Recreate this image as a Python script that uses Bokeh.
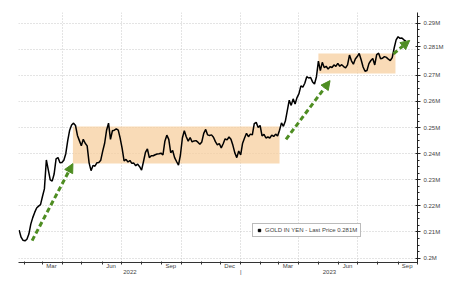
import pandas as pd
from bokeh.plotting import figure
from bokeh.models import (FixedTicker, Arrow, NormalHead, BoxAnnotation, Legend,
                          LegendItem, Range1d)
from bokeh.embed import file_html
from bokeh.resources import INLINE

# ---------------- data ----------------
start_date = "2022-01-24"
gold_yen = [  # price in millions of yen, one reading every 3 days
    0.2107, 0.2080, 0.2068, 0.2066, 0.2072, 0.2092, 0.2130, 0.2155, 0.2175, 0.2192,
    0.2199, 0.2205, 0.2236, 0.2265, 0.2376, 0.2338, 0.2300, 0.2295, 0.2322, 0.2380,
    0.2385, 0.2365, 0.2366, 0.2375, 0.2400, 0.2450, 0.2490, 0.2510, 0.2517, 0.2508,
    0.2470, 0.2450, 0.2430, 0.2455, 0.2440, 0.2430, 0.2365, 0.2335, 0.2355, 0.2352,
    0.2365, 0.2366, 0.2375, 0.2410, 0.2440, 0.2490, 0.2517, 0.2455, 0.2488, 0.2490,
    0.2495, 0.2490, 0.2459, 0.2420, 0.2372, 0.2378, 0.2368, 0.2374, 0.2363, 0.2364,
    0.2354, 0.2360, 0.2350, 0.2337, 0.2370, 0.2405, 0.2418, 0.2385, 0.2392, 0.2392,
    0.2396, 0.2399, 0.2400, 0.2402, 0.2395, 0.2448, 0.2471, 0.2455, 0.2404, 0.2412,
    0.2385, 0.2370, 0.2356, 0.2395, 0.2460, 0.2488, 0.2465, 0.2448, 0.2462, 0.2445,
    0.2449, 0.2450, 0.2444, 0.2436, 0.2445, 0.2478, 0.2493, 0.2472, 0.2470, 0.2472,
    0.2463, 0.2446, 0.2434, 0.2439, 0.2422, 0.2438, 0.2457, 0.2453, 0.2464, 0.2455,
    0.2432, 0.2403, 0.2385, 0.2410, 0.2395, 0.2440, 0.2460, 0.2478, 0.2465, 0.2475,
    0.2472, 0.2515, 0.2520, 0.2500, 0.2508, 0.2468, 0.2474, 0.2460, 0.2464, 0.2460,
    0.2471, 0.2466, 0.2475, 0.2468, 0.2490, 0.2518, 0.2505, 0.2525, 0.2565, 0.2605,
    0.2585, 0.2610, 0.2590, 0.2615, 0.2630, 0.2660, 0.2655, 0.2670, 0.2695, 0.2690,
    0.2692, 0.2675, 0.2667, 0.2695, 0.2755, 0.2718, 0.2750, 0.2730, 0.2735, 0.2724,
    0.2733, 0.2730, 0.2740, 0.2735, 0.2746, 0.2735, 0.2741, 0.2734, 0.2729, 0.2740,
    0.2778, 0.2756, 0.2743, 0.2763, 0.2772, 0.2784, 0.2760, 0.2732, 0.2716, 0.2719,
    0.2745, 0.2757, 0.2765, 0.2740, 0.2780, 0.2785, 0.2764, 0.2766, 0.2772, 0.2769,
    0.2762, 0.2757, 0.2768, 0.2805, 0.2836, 0.2848, 0.2842, 0.2843, 0.2836, 0.2831,
]
last_price = 0.281

month_label_dates = ["2022-03-15", "2022-06-15", "2022-09-15", "2022-12-15",
                     "2023-03-15", "2023-06-15", "2023-09-15"]
month_labels = ["Mar", "Jun", "Sep", "Dec", "Mar", "Jun", "Sep"]
quarter_dates = ["2022-04-01", "2022-07-01", "2022-10-01", "2023-01-01",
                 "2023-04-01", "2023-07-01", "2023-10-01"]
year_labels = ["2022", "2023"]
y_ticks = [0.20, 0.21, 0.22, 0.23, 0.24, 0.25, 0.26, 0.27, 0.28, 0.29]
y_tick_labels = ["0.2M", "0.21M", "0.22M", "0.23M", "0.24M", "0.25M", "0.26M",
                 "0.27M", "0.28M", "0.29M"]

# consolidation ranges (start date, end date, low, high)
range_starts = ["2022-04-17", "2023-05-01"]
range_ends = ["2023-03-02", "2023-08-28"]
range_lows = [0.2362, 0.2707]
range_highs = [0.2504, 0.2784]

# trend arrows (start date, start price, end date, end price)
arrow_start_dates = ["2022-02-13", "2023-03-12", "2023-08-25"]
arrow_start_prices = [0.2067, 0.2455, 0.2783]
arrow_end_dates = ["2022-04-17", "2023-05-19", "2023-09-19"]
arrow_end_prices = [0.2362, 0.2680, 0.2834]

# ---------------- helpers ----------------
origin = pd.Timestamp("2022-01-01")


def day(s):
    return int((pd.Timestamp(s) - origin).days)


dates = pd.date_range(start_date, periods=len(gold_yen), freq="3D")
xs = [int((d - origin).days) for d in dates]

x_start = 22
x_end = day("2023-10-01")
y_lo, y_hi = 0.1983, 0.2941

FONT = "Liberation Sans"
GREEN = "#4e8d22"
TXT = "#444444"

p = figure(width=450, height=284, output_backend="svg", toolbar_location=None,
           y_axis_location="right",
           x_range=Range1d(x_start, x_end), y_range=Range1d(y_lo, y_hi),
           min_border_left=18, min_border_right=33, min_border_top=12,
           min_border_bottom=22)
p.outline_line_color = None
p.background_fill_color = "white"

# grids
p.xgrid.ticker = FixedTicker(ticks=[day(d) for d in quarter_dates])
p.ygrid.ticker = FixedTicker(ticks=y_ticks)
for g in (p.xgrid, p.ygrid):
    g.grid_line_color = "#c8c8c8"
    g.grid_line_dash = "1 2"
    g.grid_line_width = 1

# consolidation boxes
for s, e, lo, hi in zip(range_starts, range_ends, range_lows, range_highs):
    p.add_layout(BoxAnnotation(left=day(s), right=day(e), bottom=lo, top=hi,
                               fill_color="#f7cf9f", fill_alpha=0.75,
                               line_color=None, level="underlay"))

# price line
p.line(xs, gold_yen, line_color="black", line_width=1.5)

# arrows
for sd, sp, ed, ep in zip(arrow_start_dates, arrow_start_prices, arrow_end_dates, arrow_end_prices):
    p.add_layout(Arrow(x_start=day(sd), y_start=sp, x_end=day(ed), y_end=ep,
                       line_color=GREEN, line_width=3, line_dash="5 3",
                       end=NormalHead(size=9, fill_color=GREEN, line_color=GREEN)))

# y axis (right); the 0.28M tick carries the last-price tag instead
ya = p.yaxis[0]
minor_y = [0.1975 + 0.0025 * i for i in range(40) if y_lo < 0.1975 + 0.0025 * i < y_hi]
axis_ticks = [t for t in y_ticks if t != 0.28] + [last_price]
ya.ticker = FixedTicker(ticks=sorted(axis_ticks), minor_ticks=minor_y)
overrides_y = {t: l for t, l in zip(y_ticks, y_tick_labels) if t != 0.28}
overrides_y[last_price] = "%.3fM" % last_price
ya.major_label_overrides = overrides_y
ya.axis_line_color = "#222222"
ya.major_tick_line_color = "#222222"
ya.minor_tick_line_color = "#222222"
ya.major_tick_in = 2
ya.major_tick_out = 3
ya.minor_tick_in = 0
ya.minor_tick_out = 2
ya.major_label_standoff = 3
ya.major_label_text_font = FONT
ya.major_label_text_font_size = "6px"
ya.major_label_text_color = TXT

# x axis: month labels on the first line, year labels on the second line
xa = p.xaxis[0]
sep = day("2023-01-01")
year_pos = [round((x_start + sep) / 2), round((sep + x_end) / 2)]
month_pos = [day(d) for d in month_label_dates]
month_starts = [day(d) for d in pd.date_range("2022-02-01", "2023-10-01", freq="MS")]
xa.ticker = FixedTicker(ticks=sorted(month_pos + year_pos + [sep]), minor_ticks=month_starts)
overrides = {m: l for m, l in zip(month_pos, month_labels)}
overrides.update({yp: "\n" + yl for yp, yl in zip(year_pos, year_labels)})
overrides[sep] = "\n|"
xa.major_label_overrides = overrides
xa.axis_line_color = "#333333"
xa.major_tick_line_color = None
xa.major_tick_in = 0
xa.major_tick_out = 0
xa.minor_tick_line_color = "#333333"
xa.minor_tick_in = 1
xa.minor_tick_out = 2
xa.major_label_standoff = -2
xa.major_label_text_font = FONT
xa.major_label_text_font_size = "6px"
xa.major_label_text_color = TXT
xa.major_label_text_line_height = 1.15

# legend
dummy = p.scatter([-100], [0], marker="square", size=6, color="black")
legend = Legend(items=[LegendItem(label="GOLD IN YEN - Last Price %.3fM" % last_price,
                                  renderers=[dummy])],
                location=(234, 25), orientation="horizontal",
                label_text_font=FONT, label_text_font_size="6px",
                label_height=6, glyph_height=6, glyph_width=6, label_standoff=3,
                padding=3, margin=0, spacing=0,
                border_line_color="#777777", border_line_width=1,
                background_fill_color="white", background_fill_alpha=1)
p.add_layout(legend)

open("out.html", "w").write(file_html(p, INLINE))
